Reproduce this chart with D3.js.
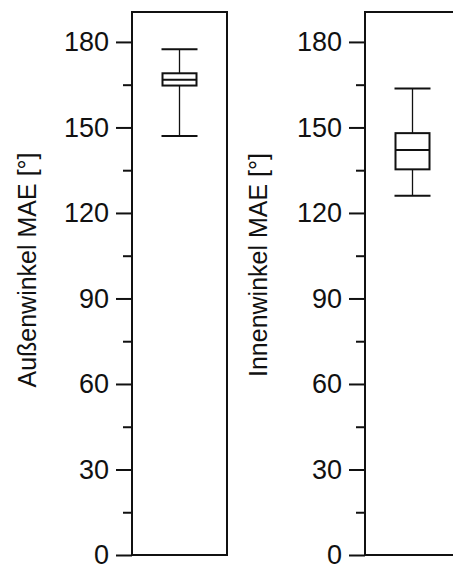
<!DOCTYPE html>
<html>
<head>
<meta charset="utf-8">
<script src="https://cdn.jsdelivr.net/npm/d3@7"></script>
<style>
  body { margin: 0; background: #fff; }
  svg { display: block; }
  text { font-family: "Liberation Sans", Arial, sans-serif; fill: #111; }
</style>
</head>
<body>
<script>
const width = 453;
const height = 565;

// box plot stats (degrees)
const panels = ["Außenwinkel", "Innenwinkel"];
const axisTitles = ["Außenwinkel MAE [°]", "Innenwinkel MAE [°]"];
const whiskerLow = [147.0, 126.0];
const q1 = [164.7, 135.3];
const median = [166.7, 142.1];
const q3 = [169.0, 148.0];
const whiskerHigh = [177.4, 163.7];
const majorTicks = [0, 30, 60, 90, 120, 150, 180];
const minorTicks = [15, 45, 75, 105, 135, 165];

const svg = d3.select("body").append("svg")
    .attr("width", width)
    .attr("height", height);

const y = d3.scaleLinear()
    .domain([0, 190.5])
    .range([555, 12]);

// left edge of each frame, frame width
const frameX = [132, 365];
const frameW = 95;
const boxW = 34;
const titleX = [36, 267];
const titleY = [270, 265];

panels.forEach(function(name, i) {
  const g = svg.append("g");
  const x = d3.scaleBand().domain([name]).range([frameX[i], frameX[i] + frameW]);
  const cx = x(name) + x.bandwidth() / 2;

  // frame
  g.append("rect")
      .attr("x", frameX[i])
      .attr("y", y(190.5))
      .attr("width", frameW)
      .attr("height", y(0) - y(190.5))
      .attr("fill", "none")
      .attr("stroke", "#111")
      .attr("stroke-width", 2);

  // major ticks
  const axis = g.append("g")
      .attr("transform", `translate(${frameX[i]},0)`)
      .call(d3.axisLeft(y).tickValues(majorTicks).tickSize(16).tickPadding(7).tickFormat(d3.format("d")));
  axis.select(".domain").remove();
  axis.selectAll(".tick line").attr("stroke", "#111").attr("stroke-width", 2);
  axis.selectAll(".tick text")
      .attr("font-size", 27)
      .attr("font-family", "Liberation Sans, Arial, sans-serif")
      .attr("fill", "#111");

  // minor ticks
  const minor = g.append("g")
      .attr("transform", `translate(${frameX[i]},0)`)
      .call(d3.axisLeft(y).tickValues(minorTicks).tickSize(9).tickFormat(""));
  minor.select(".domain").remove();
  minor.selectAll(".tick line").attr("stroke", "#111").attr("stroke-width", 2);

  // whisker line
  g.append("line")
      .attr("x1", cx).attr("x2", cx)
      .attr("y1", y(whiskerLow[i])).attr("y2", y(whiskerHigh[i]))
      .attr("stroke", "#111").attr("stroke-width", 1.3);

  // caps
  [whiskerLow[i], whiskerHigh[i]].forEach(function(v) {
    g.append("line")
        .attr("x1", cx - 18).attr("x2", cx + 18)
        .attr("y1", y(v)).attr("y2", y(v))
        .attr("stroke", "#111").attr("stroke-width", 2);
  });

  // box
  g.append("rect")
      .attr("x", cx - boxW / 2)
      .attr("y", y(q3[i]))
      .attr("width", boxW)
      .attr("height", y(q1[i]) - y(q3[i]))
      .attr("fill", "#fff")
      .attr("stroke", "#111")
      .attr("stroke-width", 2);

  g.append("line")
      .attr("x1", cx - boxW / 2).attr("x2", cx + boxW / 2)
      .attr("y1", y(median[i])).attr("y2", y(median[i]))
      .attr("stroke", "#111").attr("stroke-width", 2);

  // axis title
  g.append("text")
      .attr("transform", `translate(${titleX[i]},${titleY[i]}) rotate(-90)`)
      .attr("text-anchor", "middle")
      .attr("font-size", 25)
      .text(axisTitles[i]);
});
</script>
</body>
</html>
